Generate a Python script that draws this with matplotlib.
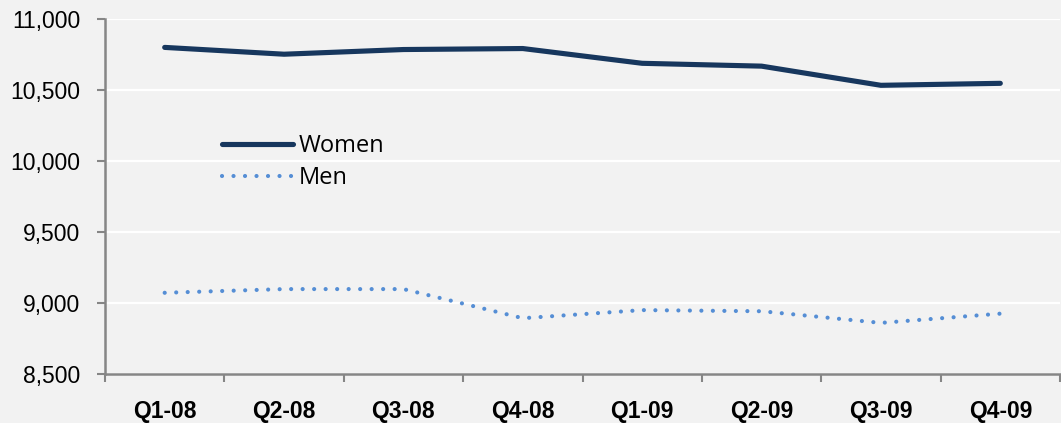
import matplotlib
matplotlib.use("Agg")
import os
import matplotlib.pyplot as plt
from matplotlib import font_manager as fm
from matplotlib.ticker import FixedLocator, NullFormatter

quarters = ["Q1-08", "Q2-08", "Q3-08", "Q4-08", "Q1-09", "Q2-09", "Q3-09", "Q4-09"]
women = [10800, 10752, 10785, 10792, 10688, 10668, 10533, 10547]
men = [9072, 9098, 9098, 8893, 8950, 8942, 8860, 8925]
y_ticks = [8500, 9000, 9500, 10000, 10500, 11000]


def find_font(name):
    for p in fm.findSystemFonts():
        if os.path.basename(p) == name:
            return p
    for f in fm.fontManager.ttflist:
        if os.path.basename(f.fname) == name:
            return f.fname
    return None


reg = find_font("LiberationSans-Regular.ttf")
bold = find_font("LiberationSans-Bold.ttf")
fp_reg = fm.FontProperties(fname=reg, size=16.5) if reg else fm.FontProperties(family="DejaVu Sans", size=15)
fp_bold = fm.FontProperties(fname=bold, size=16.5) if bold else fm.FontProperties(family="DejaVu Sans", weight="bold", size=15)

W, H = 1061, 423
bg = "#f2f2f2"
fig = plt.figure(figsize=(W / 100, H / 100), dpi=100, facecolor=bg)
ax = fig.add_axes([105 / W, 1 - 374 / H, (1060 - 105) / W, (374 - 19) / H])
ax.set_facecolor(bg)

x = list(range(len(quarters)))
ax.plot(x, women, color="#17375e", lw=3.7, solid_capstyle="round", solid_joinstyle="round", label="Women", zorder=3)
ax.plot(x, men, color="#558ed5", lw=3.0, linestyle=(0, (0.01, 2.75)), dash_capstyle="round", label="Men", zorder=3)

ax.set_xlim(-0.5, len(quarters) - 0.5)
ax.set_ylim(8500, 11000)
ax.set_yticks(y_ticks)
ax.set_yticklabels([f"{v:,}" for v in y_ticks], fontproperties=fp_reg)
ax.grid(axis="y", color="white", lw=1.6, zorder=0)
ax.set_axisbelow(True)

ax.xaxis.set_major_locator(FixedLocator([i - 0.5 for i in range(len(quarters) + 1)]))
ax.xaxis.set_major_formatter(NullFormatter())
ax.set_xticks(x, minor=True)
ax.set_xticklabels(quarters, minor=True, fontproperties=fp_bold)
ax.tick_params(axis="x", which="minor", length=0, pad=19)
ax.tick_params(axis="x", which="major", length=6, width=1.5, color="#868686", direction="out")
ax.tick_params(axis="y", length=6, width=1.5, color="#868686", pad=12)

for s in ["top", "right"]:
    ax.spines[s].set_visible(False)
for s in ["left", "bottom"]:
    ax.spines[s].set_color("#868686")
    ax.spines[s].set_linewidth(1.8)

leg = ax.legend(loc="upper left", bbox_to_anchor=(222 / W, 1 - 134 / H), bbox_transform=fig.transFigure,
                frameon=False, handlelength=3.0, handletextpad=0.25, labelspacing=0.35,
                borderpad=0, borderaxespad=0, prop={"family": "Open Sans", "size": 17})

fig.savefig("out.png", dpi=100, facecolor=bg)
